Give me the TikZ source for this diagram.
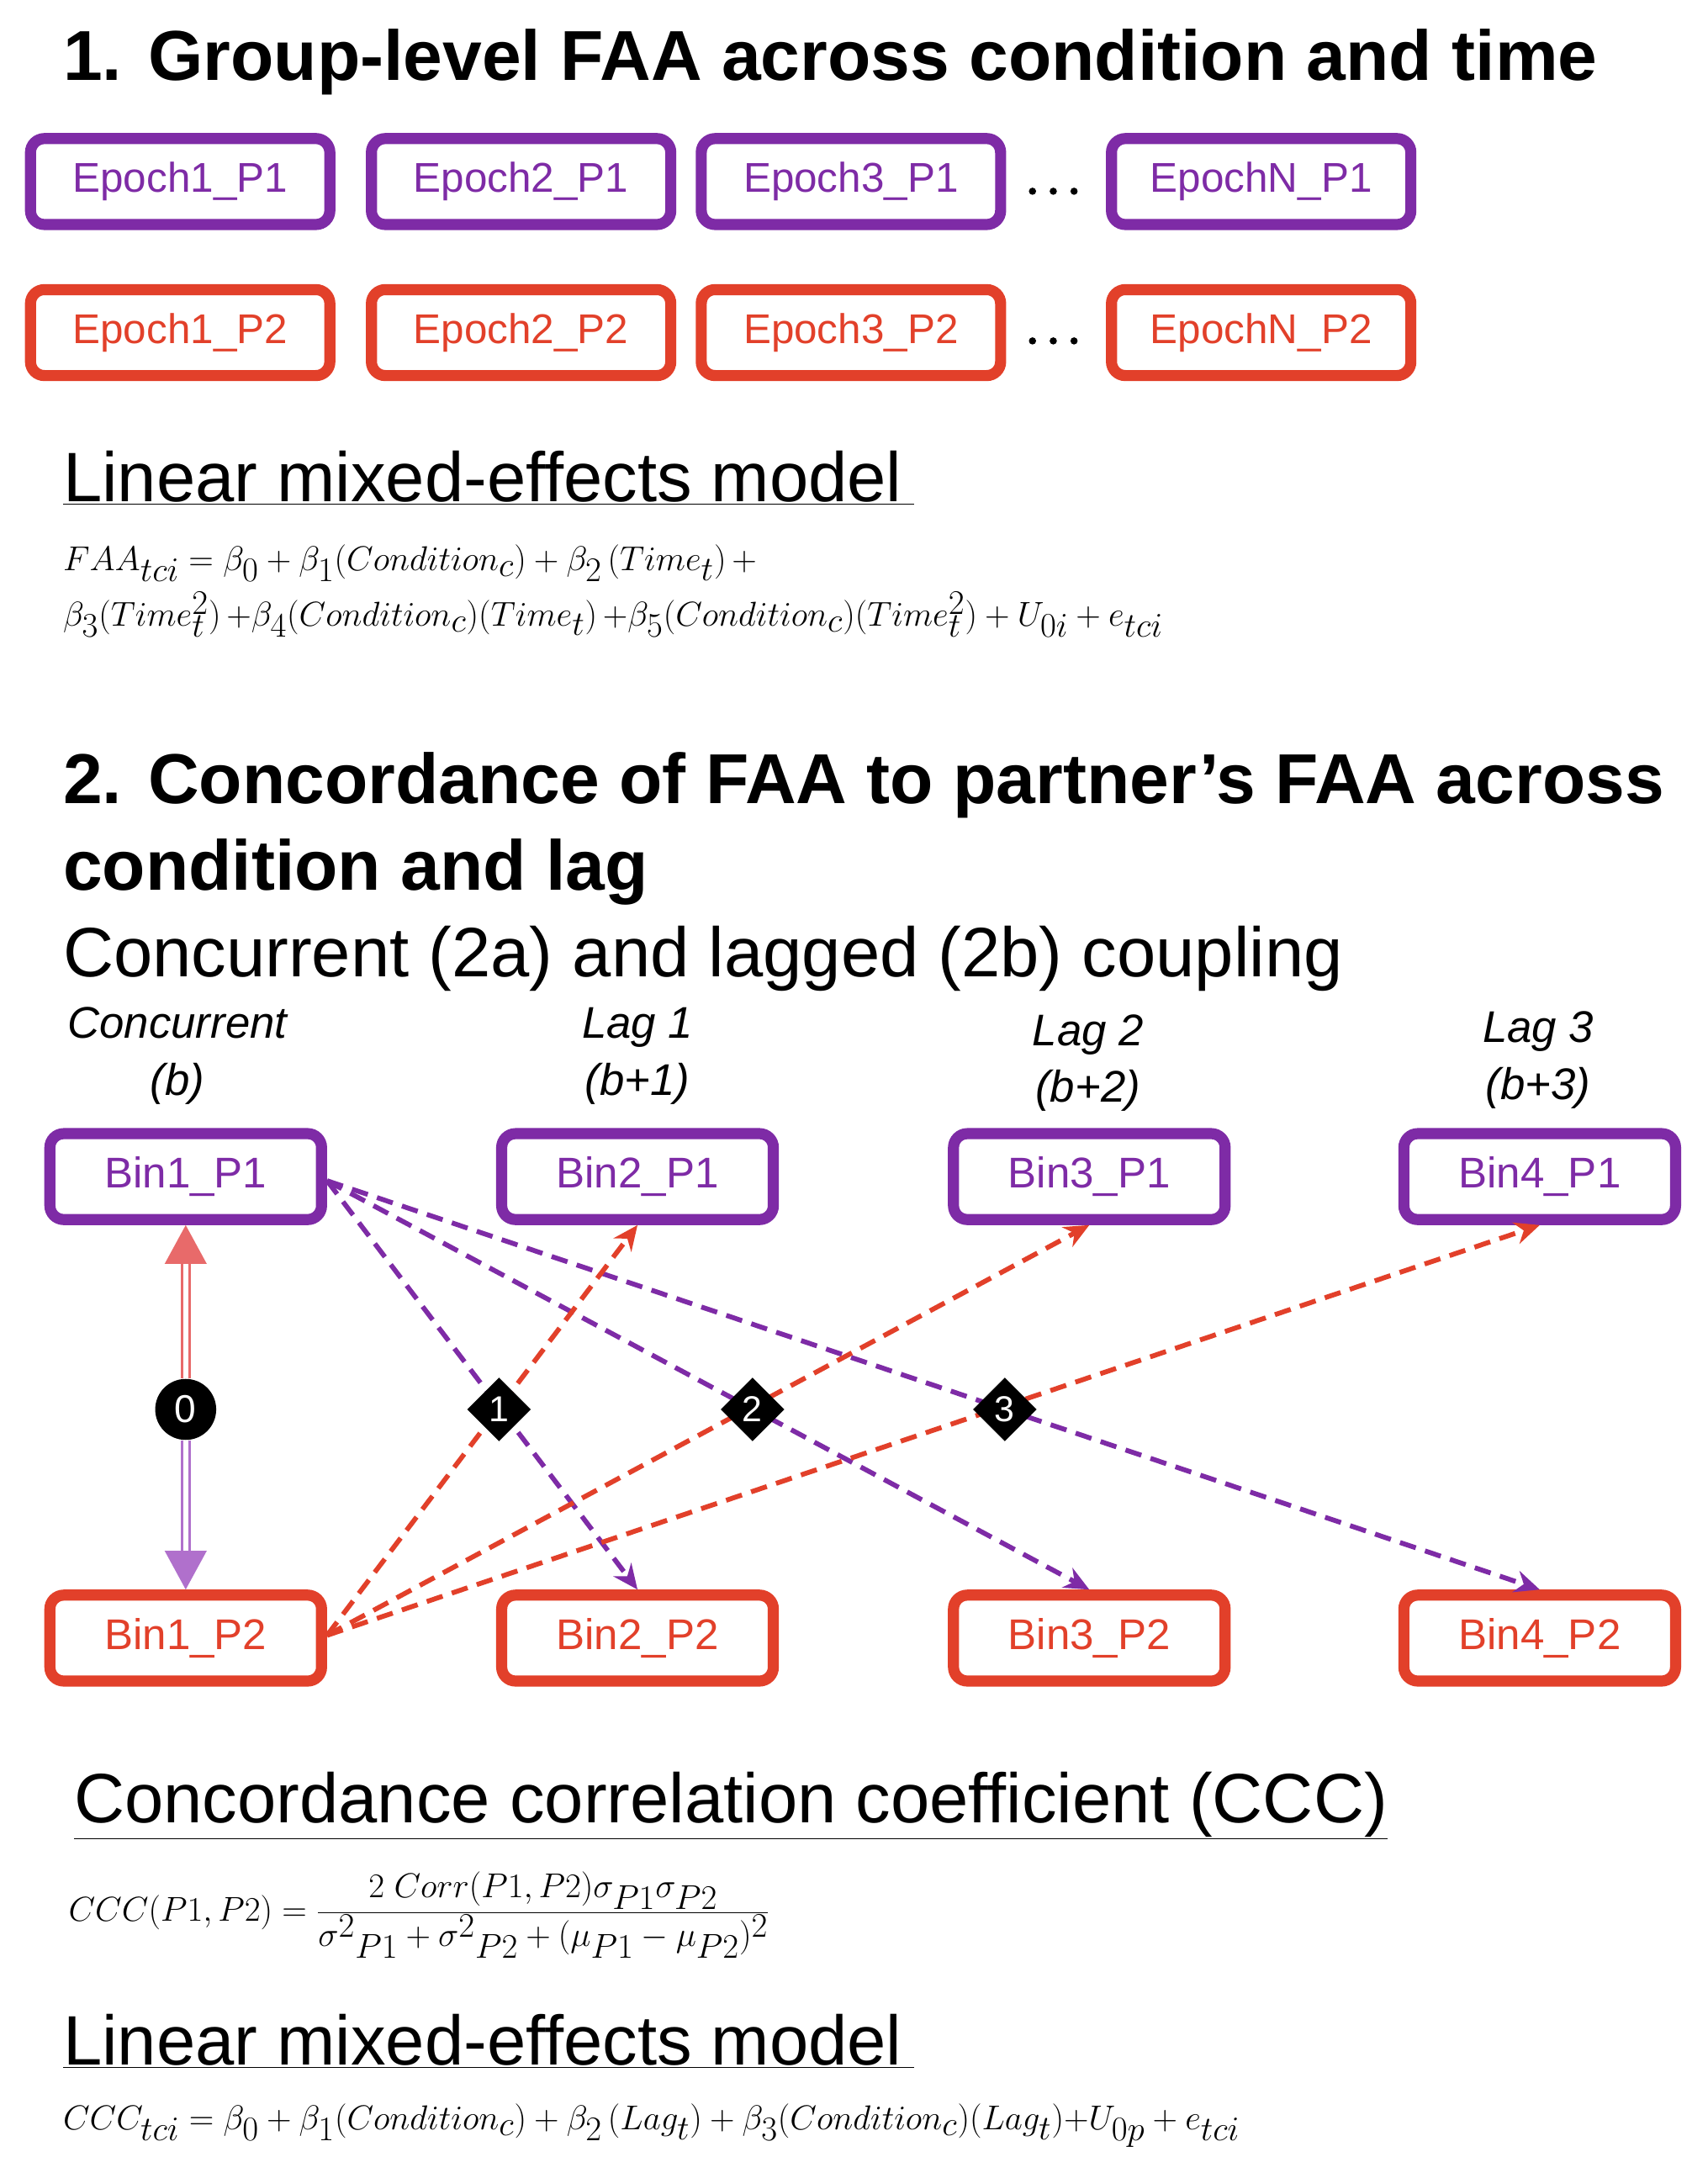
\documentclass[tikz,border=0pt]{standalone}
\usepackage{fontspec}
\setmainfont{Liberation Sans}
\usetikzlibrary{arrows.meta,shapes.geometric}
\definecolor{pur}{HTML}{7E2BA6}
\definecolor{red}{HTML}{E2402A}
\definecolor{lred}{HTML}{E86A6A}
\definecolor{lpur}{HTML}{B070CC}
\newcommand{\fs}[1]{\fontsize{#1}{#1}\selectfont}
\begin{document}
\begin{tikzpicture}[x=1pt,y=-1pt,
  ebox/.style={draw, line width=8pt, rounded corners=10pt, minimum width=216pt, minimum height=62pt, fill=white, font=\fs{30}},
  bbox/.style={draw, line width=8pt, rounded corners=10pt, minimum width=196pt, minimum height=62pt, fill=white, font=\fs{31}},
  p1/.style={draw=pur, text=pur}, p2/.style={draw=red, text=red},
  hd/.style={anchor=base west, font=\fs{51}\bfseries},
  sub/.style={anchor=base west, font=\fs{50.5}},
  eq/.style={anchor=base west, font=\fs{34}},
  lag/.style={align=center, font=\fontsize{32}{41}\selectfont\itshape},
  pd/.style={pur, dashed, line width=3.5pt, dash pattern=on 12pt off 7pt, -{Stealth[length=18pt,width=16pt]}},
  rd/.style={red, dashed, line width=3.5pt, dash pattern=on 12pt off 7pt, -{Stealth[length=18pt,width=16pt]}},
  dia/.style={diamond, fill=black, text=white, inner sep=1pt, minimum size=46pt, font=\fs{26}},
]
\useasboundingbox (0,0) rectangle (1232,1568);
\node[hd] (t1) at (42,58) {1. Group-level FAA across condition and time};
\foreach \n/\x/\l in {a/130/Epoch1, b/376/Epoch2, c/614/Epoch3, d/910/EpochN}{
  \node[ebox,p1] (\n1) at (\x,131) {\l\_P1};
  \node[ebox,p2] (\n2) at (\x,240) {\l\_P2};
}
\foreach \y in {138,246}{\foreach \x in {745,760,775}{\fill (\x,\y) circle (2.6pt);}}
\node[sub] (l1) at (42,362) {\underline{Linear mixed-effects model\,}};
\node[eq] (e1) at (42,412) {$FAA_{tci}=\beta_0+\beta_1(Condition_c)+\beta_2\,(Time_t)\,+$};
\node[eq] (e2) at (42,452) {$\beta_3(Time_t^2)\,{+}\beta_4(Condition_c)(Time_t)\,{+}\beta_5(Condition_c)(Time_t^2)+U_{0i}+e_{tci}$};
\node[hd] (t2) at (42,580) {2. Concordance of FAA to partner’s FAA across};
\node[hd] (t2b) at (42,642) {condition and lag};
\node[sub] (t3) at (42,705) {Concurrent (2a) and lagged (2b) coupling};
\node[lag] (c0) at (128,762) {Concurrent\\(b)};
\node[lag] (c1) at (460,762) {Lag 1\\(b+1)};
\node[lag] (c2) at (785,767) {Lag 2\\(b+2)};
\node[lag] (c3) at (1110,765) {Lag 3\\(b+3)};
\foreach \i/\x in {1/134,2/460,3/786,4/1111}{
  \node[bbox,p1] (b\i p1) at (\x,849) {Bin\i\_P1};
  \node[bbox,p2] (b\i p2) at (\x,1182) {Bin\i\_P2};
}
\node[circle, fill=black, text=white, minimum size=44pt, inner sep=0pt, font=\fs{28}] (z) at (134,1017) {0};
\draw[lred, line width=1.8pt, double distance=4pt, {Triangle[length=28pt,width=30pt,fill=lred]}-] (b1p1.south) -- (z.north);
\draw[lpur, line width=1.8pt, double distance=4pt, -{Triangle[length=28pt,width=30pt,fill=lpur]}] (z.south) -- (b1p2.north);
\coordinate (s1) at (236,852);
\coordinate (s2) at (236,1180);
\draw[pd] (s1) -- (b2p2.north);
\draw[pd] (s1) -- (b3p2.north);
\draw[pd] (s1) -- (b4p2.north);
\draw[rd] (s2) -- (b2p1.south);
\draw[rd] (s2) -- (b3p1.south);
\draw[rd] (s2) -- (b4p1.south);
\node[dia] (d1) at (360,1017) {1};
\node[dia] (d2) at (543,1017) {2};
\node[dia] (d3) at (725,1017) {3};
\node[sub] (cc) at (50,1315) {\underline{Concordance correlation coefficient (CCC)}};
\node[eq, anchor=west] (ccf) at (46,1382) {$\displaystyle CCC(P1,P2)=\frac{2\;Corr(P1,P2)\sigma_{P1}\sigma_{P2}}{{\sigma^2}_{P1}+{\sigma^2}_{P2}+(\mu_{P1}-\mu_{P2})^2}$};
\node[sub] (l2) at (42,1490) {\underline{Linear mixed-effects model\,}};
\node[eq] (e3) at (42,1537) {$CCC_{tci}=\beta_0+\beta_1(Condition_c)+\beta_2\,(Lag_t)+\beta_3(Condition_c)(Lag_t){+}U_{0p}+e_{tci}$};
\end{tikzpicture}
\end{document}
